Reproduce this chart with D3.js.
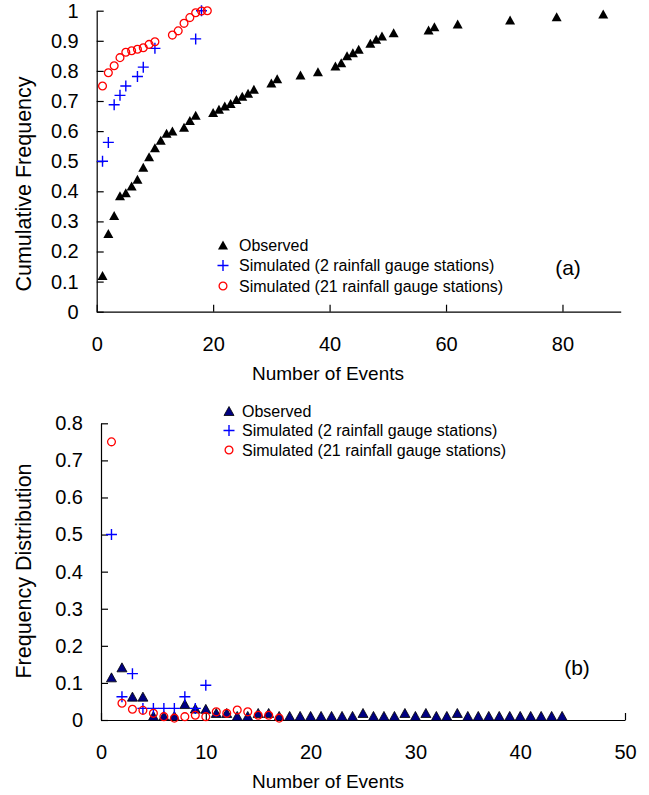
<!DOCTYPE html>
<html>
<head>
<meta charset="utf-8">
<script src="https://cdn.jsdelivr.net/npm/d3@7"></script>
<style>
body{margin:0;background:#fff;}
svg{display:block;font-family:"Liberation Sans",Arial,sans-serif;}
</style>
</head>
<body>
<div id="chart"></div>
<script>
// panel (a): cumulative frequency
var obsCumX = [1,2,3,4,5,6,7,8,9,10,11,12,13,15,16,17,20,21,22,23,24,25,26,27,30,31,35,38,41,42,43,44,45,47,48,49,51,57,58,62,71,79,87];
var obsCumY = [0.12,0.26,0.32,0.385,0.395,0.418,0.44,0.48,0.515,0.545,0.57,0.593,0.60,0.613,0.635,0.653,0.662,0.673,0.683,0.692,0.705,0.716,0.726,0.739,0.76,0.774,0.786,0.797,0.816,0.827,0.85,0.86,0.872,0.892,0.905,0.916,0.927,0.936,0.947,0.956,0.969,0.98,0.989];
var sim2CumX = [1,2,3,4,5,7,8,10,17,18];
var sim2CumY = [0.5,0.5625,0.6875,0.71875,0.75,0.78125,0.8125,0.875,0.90625,1.0];
var sim21CumX = [1,2,3,4,5,6,7,8,9,10,13,14,15,16,17,18,19];
var sim21CumY = [0.75,0.794,0.817,0.844,0.862,0.867,0.872,0.877,0.888,0.897,0.919,0.933,0.958,0.977,0.993,0.999,1.0];

// panel (b): frequency distribution
var obsFreqX = d3.range(1, 45);
var obsFreqY = [0.115,0.142,0.063,0.063,0.011,0.011,0.011,0.043,0.031,0.03,0.019,0.019,0.011,0.011,0.019,0.019,0.011,
                0.011,0.011,0.011,0.011,0.011,0.011,0.011,0.019,0.011,0.011,0.011,0.019,0.011,0.019,0.011,0.011,0.019,
                0.011,0.011,0.011,0.011,0.011,0.011,0.011,0.011,0.011,0.011];
var sim2FreqX = [1,2,3,4,5,6,7,8,9,10];
var sim2FreqY = [0.5,0.0625,0.125,0.03125,0.03125,0.03125,0.03125,0.0625,0.03125,0.09375];
var sim21FreqX = [1,2,3,4,5,6,7,8,9,10,11,12,13,14,15,16,17];
var sim21FreqY = [0.75,0.045,0.029,0.026,0.018,0.009,0.005,0.009,0.013,0.009,0.022,0.018,0.027,0.022,0.013,0.013,0.005];

var legendLabels = ["Observed", "Simulated (2 rainfall gauge stations)", "Simulated (21 rainfall gauge stations)"];

var xTicksA = [0,20,40,60,80];
var yTicksA = d3.range(0, 11).map(function(d){return d/10;});
var xTicksB = [0,10,20,30,40,50];
var yTicksB = d3.range(0, 9).map(function(d){return d/10;});

var svg = d3.select("#chart").append("svg")
  .attr("width", 649)
  .attr("height", 795);

function triPath(w, h){
  return "M0," + (-h/2) + "L" + (w/2) + "," + (h/2) + "L" + (-w/2) + "," + (h/2) + "Z";
}
var plusPath = "M-5.5,0H5.5M0,-5.5V5.5";
var circPath = d3.symbol().type(d3.symbolCircle).size(Math.PI * 3.9 * 3.9)();

function fmt(d){ return String(+d.toFixed(1)); }

function drawAxes(g, x, y, xTicks, yTicks, xLabel, yLabel, xLabelX, yLabelY){
  var xAxis = g.append("g")
    .attr("transform", "translate(0," + y.range()[0] + ")")
    .call(d3.axisBottom(x).tickValues(xTicks).tickFormat(fmt)
      .tickSizeInner(-7).tickSizeOuter(0).tickPadding(25));
  var yAxis = g.append("g")
    .attr("transform", "translate(" + x.range()[0] + ",0)")
    .call(d3.axisLeft(y).tickValues(yTicks).tickFormat(fmt)
      .tickSizeInner(-7).tickSizeOuter(0).tickPadding(18));

  g.selectAll(".domain, .tick line").attr("stroke", "#000").attr("stroke-width", 1.2);
  g.selectAll(".tick text")
    .attr("fill", "#000")
    .style("font-size", "20px")
    .style("font-family", "'Liberation Sans', Arial, sans-serif");

  g.append("text")
    .attr("x", xLabelX)
    .attr("y", y.range()[0] + 68)
    .attr("text-anchor", "middle")
    .style("font-size", "19px")
    .text(xLabel);

  g.append("text")
    .attr("transform", "translate(31," + yLabelY + ") rotate(-90)")
    .attr("text-anchor", "middle")
    .style("font-size", "21.5px")
    .text(yLabel);
}

function styleMark(sel, kind, triFill){
  if(kind == "tri"){
    sel.attr("d", triPath(10, 9))
      .attr("fill", triFill)
      .attr("stroke", "#000")
      .attr("stroke-width", triFill == "#000" ? 0 : 0.8);
  } else if(kind == "plus"){
    sel.attr("d", plusPath)
      .attr("fill", "none")
      .attr("stroke", "#0000ff")
      .attr("stroke-width", 1.4);
  } else {
    sel.attr("d", circPath)
      .attr("fill", "none")
      .attr("stroke", "#ff0000")
      .attr("stroke-width", 1.3);
  }
}

function drawPoints(g, x, y, xs, ys, kind, triFill){
  var pts = xs.map(function(d, i){return {x: d, y: ys[i]};});
  var sel = g.selectAll("path." + kind)
    .data(pts).enter()
    .append("path")
      .attr("class", kind)
      .attr("transform", function(d){return "translate(" + x(d.x) + "," + y(d.y) + ")";});
  styleMark(sel, kind, triFill);
}

function drawLegend(g, mx, tx, y0, dy, triFill){
  var lg = g.append("g");
  ["tri", "plus", "circ"].forEach(function(k, i){
    var cy = y0 + i * dy;
    var m = lg.append("path").attr("transform", "translate(" + mx + "," + cy + ")");
    styleMark(m, k, triFill);
    lg.append("text")
      .attr("x", tx)
      .attr("y", cy + 5.5)
      .style("font-size", "16px")
      .text(legendLabels[i]);
  });
}

// ---- panel (a)
var xA = d3.scaleLinear().domain([0, 90]).range([96.7, 620.7]);
var yA = d3.scaleLinear().domain([0, 1]).range([311.7, 10.7]);
var gA = svg.append("g");
drawAxes(gA, xA, yA, xTicksA, yTicksA, "Number of Events", "Cumulative Frequency", 328, 184);
drawPoints(gA, xA, yA, obsCumX, obsCumY, "tri", "#000");
drawPoints(gA, xA, yA, sim2CumX, sim2CumY, "plus");
drawPoints(gA, xA, yA, sim21CumX, sim21CumY, "circ");
drawLegend(gA, 223, 239, 245, 20.5, "#000");
gA.append("text").attr("x", 568).attr("y", 275).attr("text-anchor", "middle")
  .style("font-size", "21px").text("(a)");

// ---- panel (b)
var xB = d3.scaleLinear().domain([0, 50]).range([101, 625]);
var yB = d3.scaleLinear().domain([0, 0.8]).range([720, 423.3]);
var gB = svg.append("g");
drawAxes(gB, xB, yB, xTicksB, yTicksB, "Number of Events", "Frequency Distribution", 328, 571);
drawPoints(gB, xB, yB, obsFreqX, obsFreqY, "tri", "#000080");
drawPoints(gB, xB, yB, sim2FreqX, sim2FreqY, "plus");
drawPoints(gB, xB, yB, sim21FreqX, sim21FreqY, "circ");
drawLegend(gB, 229, 242, 411, 19.5, "#000080");
gB.append("text").attr("x", 577).attr("y", 675).attr("text-anchor", "middle")
  .style("font-size", "21px").text("(b)");
</script>
</body>
</html>
